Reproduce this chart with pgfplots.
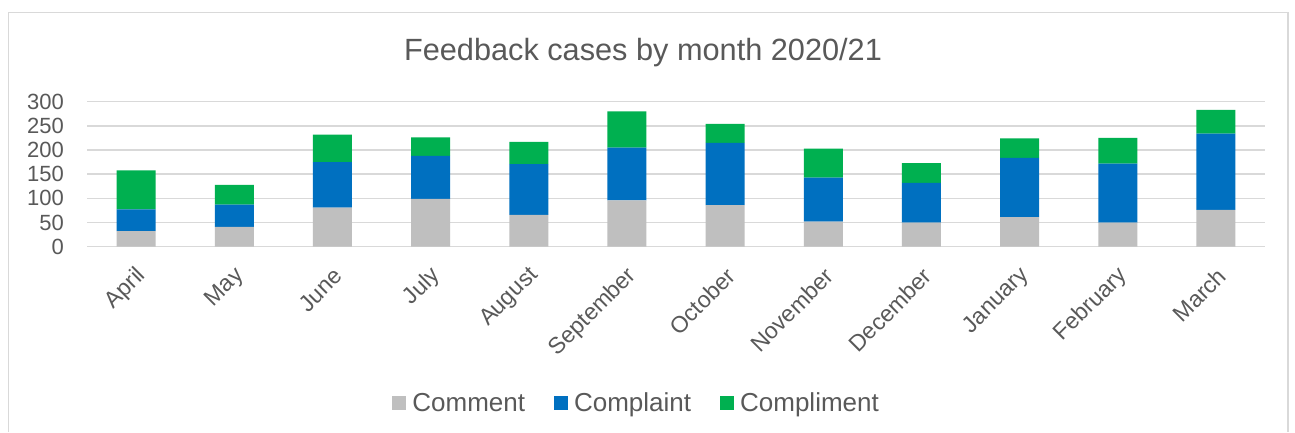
\documentclass[border=0pt]{standalone}
\usepackage{pgfplots}
\pgfplotsset{compat=1.18}
\usepackage{pgfplotstable}
\usepackage{fontspec}
\setmainfont{Liberation Sans}

\definecolor{txt}{HTML}{595959}
\definecolor{gridc}{HTML}{D9D9D9}
\definecolor{cComment}{HTML}{BFBFBF}
\definecolor{cComplaint}{HTML}{0070C0}
\definecolor{cCompliment}{HTML}{00B050}

% feedback cases per month, 2020/21
\pgfplotstableread{
x comment complaint compliment
0  32  45  81
1  41  46  41
2  81  94  57
3  99  89  38
4  66 105  46
5  96 109  75
6  86 129  39
7  52  91  60
8  50  82  41
9  61 123  40
10 50 122  53
11 76 158  49
}\feedback

\begin{document}
\begin{tikzpicture}
\useasboundingbox (0pt,0pt) rectangle (1295pt,432pt);
\fill[white] (0pt,0pt) rectangle (1295pt,432pt);
\draw[gridc, line width=1.5pt] (8.5pt,0pt) -- (8.5pt,419.5pt) -- (1288pt,419.5pt) -- (1288pt,0pt);
\coordinate (origin) at (87pt,185.3pt);

\node[anchor=base, text=txt, font=\fontsize{30.7}{36}\selectfont, inner sep=0pt]
  at (643pt,371pt) {Feedback cases by month 2020/21};

\begin{axis}[
    at={(origin)}, anchor=south west,
    scale only axis,
    width=1178pt, height=145pt,
    ybar stacked, bar width=39pt,
    xmin=-0.5, xmax=11.5, ymin=0, ymax=300,
    enlarge x limits=false, enlarge y limits=false,
    xtick={0,...,11},
    xticklabels={April,May,June,July,August,September,October,November,December,January,February,March},
    ytick={0,50,...,300},
    ymajorgrids,
    grid style={gridc, line width=1.5pt},
    axis line style={draw=none},
    tick style={draw=none},
    tick label style={text=txt, font=\fontsize{22}{26}\selectfont},
    /pgf/number format/assume math mode=true,
    % shifts are taken in the rotated frame
    xticklabel style={rotate=45, anchor=east, inner sep=0pt, xshift=-13.7pt, yshift=-22.4pt,
        font=\fontsize{23}{26}\selectfont},
    yticklabel style={inner sep=0pt, xshift=-23pt},
    legend columns=-1,
    legend style={at={(0.467,-1.078)}, anchor=center, draw=none, fill=none,
        text=txt, font=\fontsize{26}{30}\selectfont,
        nodes={inner sep=3pt},
        /tikz/every odd column/.append style={column sep=3pt},
        /tikz/every even column/.append style={column sep=26pt}},
    legend image code/.code={\fill[#1] (0pt,-7pt) rectangle (14pt,7pt);},
]
\addplot[fill=cComment, draw=none] table[x=x, y=comment] {\feedback};
\addlegendentry{Comment}
\addplot[fill=cComplaint, draw=none] table[x=x, y=complaint] {\feedback};
\addlegendentry{Complaint}
\addplot[fill=cCompliment, draw=none] table[x=x, y=compliment] {\feedback};
\addlegendentry{Compliment}
\end{axis}
\end{tikzpicture}
\end{document}
